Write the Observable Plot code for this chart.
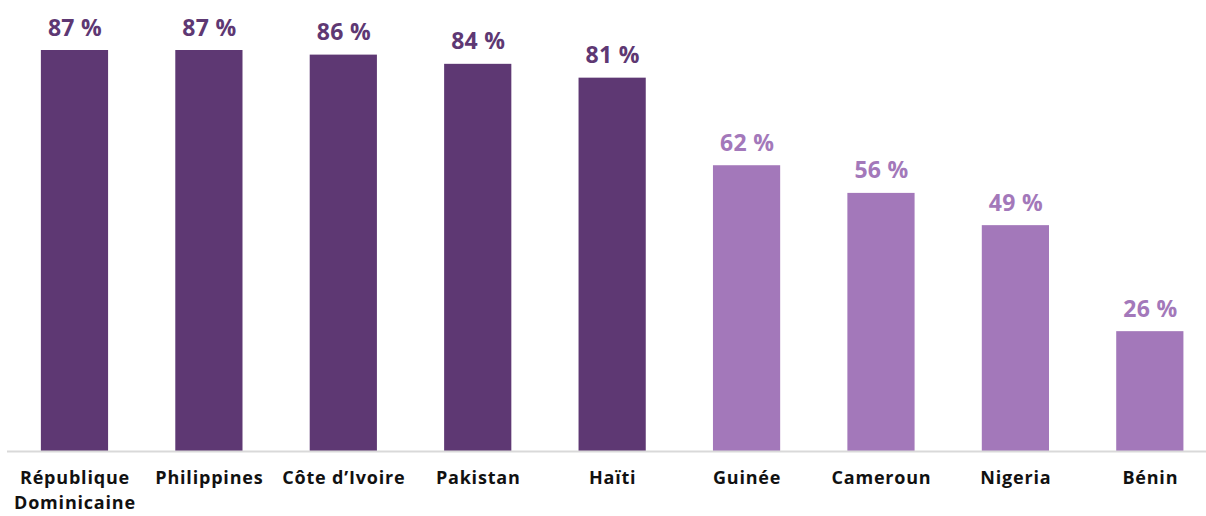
<!DOCTYPE html>
<html>
<head>
<meta charset="utf-8">
<script src="https://cdn.jsdelivr.net/npm/d3@7"></script>
<script src="https://cdn.jsdelivr.net/npm/@observablehq/plot@0.6"></script>
<style>
  html, body { margin: 0; padding: 0; background: #fff; }
  #chart { width: 1206px; height: 516px; }
  #chart svg text { letter-spacing: 0.3px; }
  #chart svg g[aria-label="x-axis tick label"] text { letter-spacing: 0.8px; }
</style>
</head>
<body>
<div id="chart"></div>
<script>
const countries = ["République\nDominicaine", "Philippines", "Côte d’Ivoire", "Pakistan", "Haïti", "Guinée", "Cameroun", "Nigeria", "Bénin"];
const values = [87, 87, 86, 84, 81, 62, 56, 49, 26];
const groups = ["high", "high", "high", "high", "high", "low", "low", "low", "low"];

const data = countries.map((c, i) => ({country: c, value: values[i], group: groups[i]}));
const colors = {high: "#5e3873", low: "#a378ba"};

const chart = Plot.plot({
  width: 1206,
  height: 516,
  marginTop: 50,
  marginBottom: 65,
  marginLeft: 7,
  marginRight: 0,
  style: {fontFamily: "'Open Sans', sans-serif", background: "#fff"},
  x: {domain: countries, paddingInner: 0.5, paddingOuter: 0.21, align: 0.6, round: false, label: null},
  y: {domain: [0, 87], axis: null},
  color: {domain: ["high", "low"], range: [colors.high, colors.low]},
  marks: [
    Plot.barY(data, {x: "country", y: "value", fill: "group"}),
    Plot.ruleY([0], {stroke: "#d9d9d9", strokeWidth: 2}),
    Plot.text(data, {
      x: "country", y: "value", text: d => `${d.value} %`,
      fill: "group", lineAnchor: "bottom", dy: -15,
      fontSize: 23, fontWeight: 700
    }),
    Plot.axisX({
      tickSize: 0, tickPadding: 15, fontSize: 18, fontWeight: 700,
      lineHeight: 1.37, fill: "#111", label: null
    })
  ]
});
document.getElementById("chart").appendChild(chart);
</script>
</body>
</html>
